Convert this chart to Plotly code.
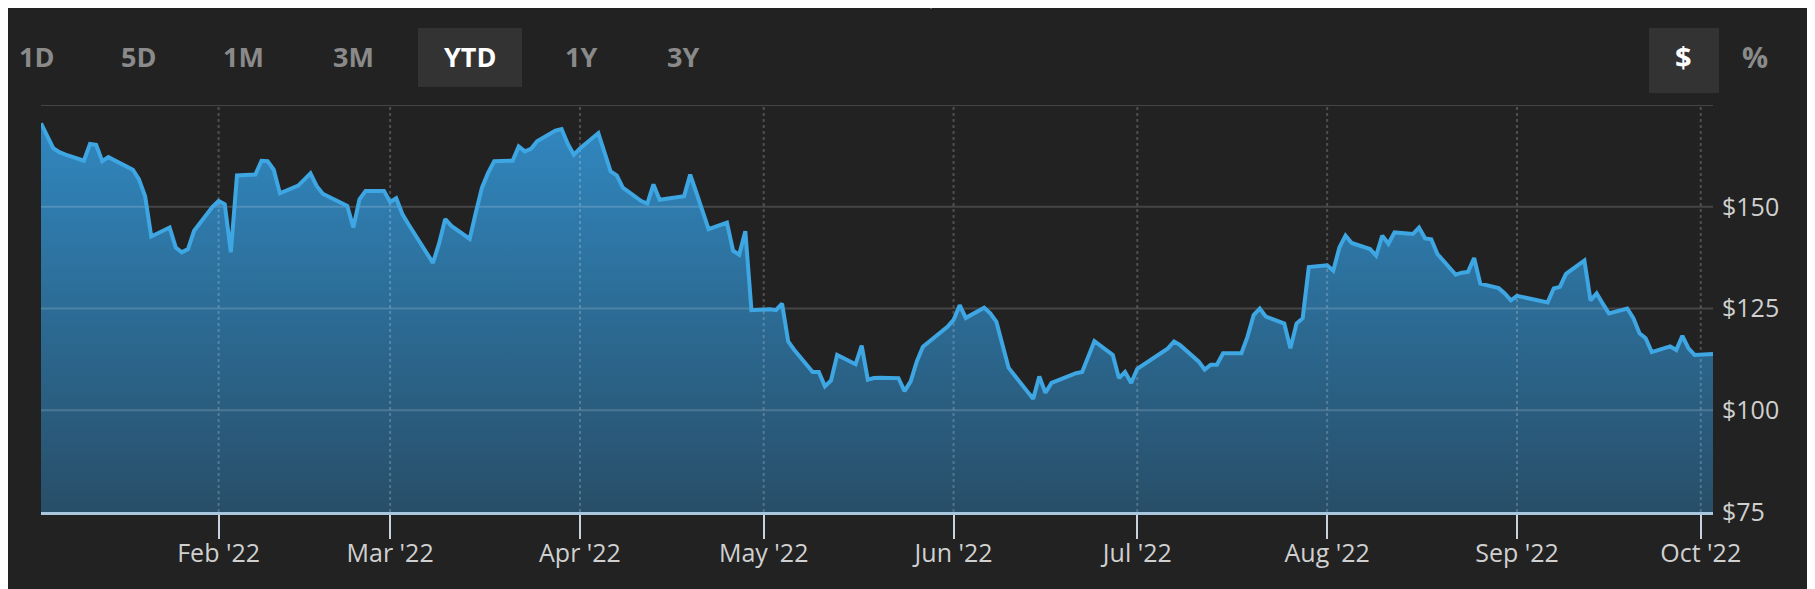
import plotly.graph_objects as go

# ---------------- data ----------------
dates = [
    "2022-01-03","2022-01-04","2022-01-05","2022-01-06","2022-01-07","2022-01-10","2022-01-11","2022-01-12",
    "2022-01-13","2022-01-14","2022-01-18","2022-01-19","2022-01-20","2022-01-21","2022-01-24","2022-01-25",
    "2022-01-26","2022-01-27","2022-01-28","2022-01-31","2022-02-01","2022-02-02","2022-02-03","2022-02-04",
    "2022-02-07","2022-02-08","2022-02-09","2022-02-10","2022-02-11","2022-02-14","2022-02-15","2022-02-16",
    "2022-02-17","2022-02-18","2022-02-22","2022-02-23","2022-02-24","2022-02-25","2022-02-28","2022-03-01",
    "2022-03-02","2022-03-03","2022-03-04","2022-03-07","2022-03-08","2022-03-09","2022-03-10","2022-03-11",
    "2022-03-14","2022-03-15","2022-03-16","2022-03-17","2022-03-18","2022-03-21","2022-03-22","2022-03-23",
    "2022-03-24","2022-03-25","2022-03-28","2022-03-29","2022-03-30","2022-03-31","2022-04-01","2022-04-04",
    "2022-04-05","2022-04-06","2022-04-07","2022-04-08","2022-04-11","2022-04-12","2022-04-13","2022-04-14",
    "2022-04-18","2022-04-19","2022-04-20","2022-04-21","2022-04-22","2022-04-25","2022-04-26","2022-04-27",
    "2022-04-28","2022-04-29","2022-05-02","2022-05-03","2022-05-04","2022-05-05","2022-05-06","2022-05-09",
    "2022-05-10","2022-05-11","2022-05-12","2022-05-13","2022-05-16","2022-05-17","2022-05-18","2022-05-19",
    "2022-05-20","2022-05-23","2022-05-24","2022-05-25","2022-05-26","2022-05-27","2022-05-31","2022-06-01",
    "2022-06-02","2022-06-03","2022-06-06","2022-06-07","2022-06-08","2022-06-09","2022-06-10","2022-06-13",
    "2022-06-14","2022-06-15","2022-06-16","2022-06-17","2022-06-21","2022-06-22","2022-06-23","2022-06-24",
    "2022-06-27","2022-06-28","2022-06-29","2022-06-30","2022-07-01","2022-07-05","2022-07-06","2022-07-07",
    "2022-07-08","2022-07-11","2022-07-12","2022-07-13","2022-07-14","2022-07-15","2022-07-18","2022-07-19",
    "2022-07-20","2022-07-21","2022-07-22","2022-07-25","2022-07-26","2022-07-27","2022-07-28","2022-07-29",
    "2022-08-01","2022-08-02","2022-08-03","2022-08-04","2022-08-05","2022-08-08","2022-08-09","2022-08-10",
    "2022-08-11","2022-08-12","2022-08-15","2022-08-16","2022-08-17","2022-08-18","2022-08-19","2022-08-22",
    "2022-08-23","2022-08-24","2022-08-25","2022-08-26","2022-08-29","2022-08-30","2022-08-31","2022-09-01",
    "2022-09-02","2022-09-06","2022-09-07","2022-09-08","2022-09-09","2022-09-12","2022-09-13","2022-09-14",
    "2022-09-15","2022-09-16","2022-09-19","2022-09-20","2022-09-21","2022-09-22","2022-09-23","2022-09-26",
    "2022-09-27","2022-09-28","2022-09-29","2022-09-30","2022-10-03",
]
prices = [
    170.5,167.6,164.4,163.4,162.8,161.3,165.4,165.2,
    161.2,162.2,159.1,156.7,152.6,142.7,144.9,140.0,
    138.8,139.6,144.1,150.0,151.4,150.6,138.8,157.7,
    157.9,161.3,161.2,159.1,153.3,155.2,156.7,158.2,
    155.1,153.2,150.2,144.9,151.8,153.9,153.9,151.2,
    152.1,148.2,145.7,138.4,136.2,141.0,147.0,145.3,
    142.1,148.6,154.7,158.3,161.2,161.3,164.8,163.6,
    164.2,166.1,168.7,169.1,165.5,162.8,164.3,168.1,
    163.2,158.7,157.7,154.7,151.4,150.8,155.5,151.7,
    152.6,157.9,153.5,148.6,144.5,146.1,139.2,138.2,
    144.0,124.6,124.8,124.6,126.2,116.9,114.8,109.4,
    109.4,105.9,107.3,113.6,111.3,115.9,107.5,107.9,
    108.0,107.9,104.7,107.1,112.0,115.6,120.5,122.2,
    125.8,122.7,125.2,123.8,121.7,116.0,110.4,104.7,
    102.8,108.3,104.3,106.7,109.1,109.4,113.2,117.0,
    113.6,107.9,109.4,106.7,110.2,114.0,115.2,116.9,
    116.0,112.0,110.0,111.2,111.2,114.0,114.0,118.1,
    123.4,125.0,123.0,121.3,115.2,121.3,122.6,135.2,
    135.6,134.3,140.0,142.9,141.1,139.6,138.0,142.9,
    140.9,143.7,143.3,144.9,142.2,142.0,138.4,133.3,
    133.8,134.0,137.4,131.1,130.0,128.7,127.0,128.1,
    127.8,126.5,129.9,130.3,133.5,136.8,127.0,128.7,
    126.2,123.8,125.0,122.6,118.9,117.7,114.3,115.7,
    114.8,118.3,115.2,113.6,113.8,
]

month_ticks = ["2022-02-01","2022-03-01","2022-04-01","2022-05-01","2022-06-01",
               "2022-07-01","2022-08-01","2022-09-01","2022-10-01"]
month_labels = ["Feb '22","Mar '22","Apr '22","May '22","Jun '22",
                "Jul '22","Aug '22","Sep '22","Oct '22"]
price_ticks = [75, 100, 125, 150]
price_labels = ["$75", "$100", "$125", "$150"]
grid_levels = [100, 125, 150, 175]
y_range = [75, 175]
range_buttons = ["1D", "5D", "1M", "3M", "YTD", "1Y", "3Y"]
active_button = "YTD"
unit_buttons = ["$", "%"]
active_unit = "$"

# ---------------- layout geometry (page pixels) ----------------
PAGE_W, PAGE_H = 1815, 589
BODY = 8  # default page body margin
W, H = PAGE_W - BODY, PAGE_H - BODY
L, R, T, B = 41, 1713, 105, 512      # plot area in page coordinates
PW, PH = R - L, B - T


def px(x):
    return (x - L) / PW


def py(y):
    return (B - y) / PH


BG = "#222222"
FONT = "Open Sans"

fig = go.Figure()

# area fill
fig.add_trace(go.Scatter(
    x=dates, y=prices, mode="lines", line=dict(width=0, color="rgba(0,0,0,0)"),
    fill="tozeroy",
    fillgradient=dict(type="vertical", start=y_range[0], stop=y_range[1],
                      colorscale=[[0, "rgba(40,78,104,1)"], [0.5, "rgba(44,108,150,1)"],
                                  [1, "rgba(49,138,196,1)"]]),
    hoverinfo="skip", showlegend=False,
))

# gridlines (drawn over the fill, under the line)
for lv in grid_levels:
    fig.add_trace(go.Scatter(
        x=[dates[0], dates[-1]], y=[lv, lv], mode="lines",
        line=dict(color="rgba(255,255,255,0.16)", width=2),
        hoverinfo="skip", showlegend=False,
    ))
for d in month_ticks:
    fig.add_trace(go.Scatter(
        x=[d, d], y=y_range, mode="lines",
        line=dict(color="rgba(255,255,255,0.2)", width=2, dash="dot"),
        hoverinfo="skip", showlegend=False,
    ))

# price line
fig.add_trace(go.Scatter(
    x=dates, y=prices, mode="lines",
    line=dict(color="#3ea6e2", width=4),
    showlegend=False, hoverinfo="x+y",
))

# buttons
btn_x = [36, 138, 243, 353, 470, 581, 683]
annotations = []
shapes = []
for lab, bx in zip(range_buttons, btn_x):
    act = lab == active_button
    annotations.append(dict(
        x=px(bx), y=py(57), xref="paper", yref="paper", text=lab, showarrow=False,
        xanchor="center", yanchor="middle",
        font=dict(family=FONT, size=27, color="#ffffff" if act else "#8a8a8a", weight="bold"),
    ))
    if act:
        shapes.append(dict(type="rect", xref="paper", yref="paper",
                           x0=px(418), x1=px(522), y0=py(87), y1=py(28),
                           fillcolor="#333333", line=dict(width=0), layer="below"))
unit_x = [1683, 1755]
for lab, bx in zip(unit_buttons, unit_x):
    act = lab == active_unit
    annotations.append(dict(
        x=px(bx), y=py(57), xref="paper", yref="paper", text=lab, showarrow=False,
        xanchor="center", yanchor="middle",
        font=dict(family=FONT, size=29, color="#ffffff" if act else "#8a8a8a", weight="bold"),
    ))
    if act:
        shapes.append(dict(type="rect", xref="paper", yref="paper",
                           x0=px(1649), x1=px(1719), y0=py(93), y1=py(28),
                           fillcolor="#333333", line=dict(width=0), layer="below"))
# small marker at top centre
shapes.append(dict(type="line", xref="paper", yref="paper",
                   x0=px(931), x1=px(931), y0=py(0), y1=py(9),
                   line=dict(color="#5a5a5a", width=2)))

fig.update_layout(
    width=W, height=H,
    margin=dict(l=L - BODY, r=PAGE_W - R, t=T - BODY, b=PAGE_H - B, pad=0),
    paper_bgcolor=BG, plot_bgcolor=BG,
    font=dict(family=FONT, color="#d2d2d2"),
    annotations=annotations, shapes=shapes,
    hovermode="x",
    xaxis=dict(
        type="date", range=[dates[0], dates[-1]],
        tickvals=month_ticks, ticktext=month_labels,
        ticks="outside", ticklen=24, tickwidth=2, tickcolor="#c8d2dc",
        showline=True, linecolor="#a9c7de", linewidth=3,
        showgrid=False, zeroline=False,
        ticklabelstandoff=-7,
        tickfont=dict(family=FONT, size=25, color="#d0d0d0"),
        fixedrange=True,
    ),
    yaxis=dict(
        range=y_range, side="right",
        tickvals=price_ticks, ticktext=price_labels,
        ticks="", showline=False, showgrid=False, zeroline=False,
        ticklabelstandoff=8,
        tickfont=dict(family=FONT, size=25, color="#d0d0d0"),
        fixedrange=True,
    ),
)

fig.write_html("out.html")
